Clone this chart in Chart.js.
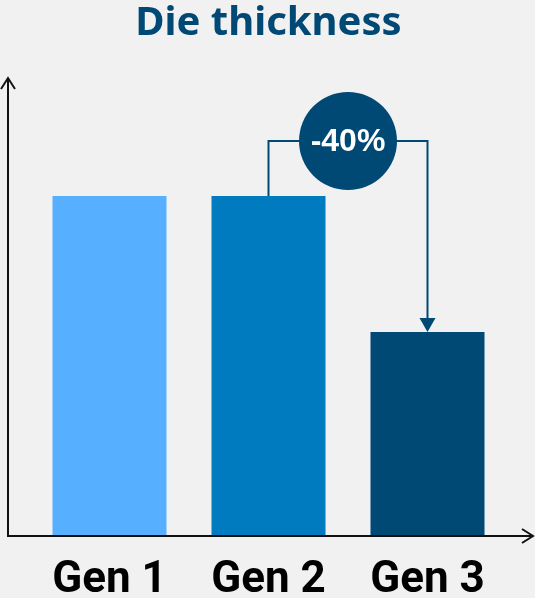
<!DOCTYPE html>
<html lang="en">
<head>
  <meta charset="UTF-8">
  <title>Die thickness</title>
  <script src="https://cdn.jsdelivr.net/npm/chart.js"></script>
  <style>
    body {
      margin: 0;
      background: #f1f1f1;
    }
    #wrap {
      width: 535px;
      height: 598px;
    }
  </style>
</head>
<body>
  <div id="wrap"><canvas id="chart" width="535" height="598"></canvas></div>
  <script>
    // data (relative die thickness, Gen 1 = 100)
    const generaciones = ['Gen 1', 'Gen 2', 'Gen 3'];
    const grosor = [100, 100, 60];
    const yMax = 130;

    const colores = ['#56b0ff', '#007bc0', '#004975'];
    const azulOscuro = '#004975';

    // axis arrows, drawn around the chart area
    const ejes = {
      id: 'ejes',
      afterDraw(chart) {
        const { ctx, chartArea } = chart;
        const x0 = chartArea.left - 22;
        const y0 = chartArea.bottom;
        const yTop = chartArea.top - 16;
        const xEnd = chartArea.right + 26;
        ctx.save();
        ctx.strokeStyle = '#111';
        ctx.lineWidth = 2;
        ctx.beginPath();
        ctx.moveTo(x0, y0);
        ctx.lineTo(x0, yTop);
        ctx.moveTo(x0 - 7, yTop + 11);
        ctx.lineTo(x0, yTop);
        ctx.lineTo(x0 + 7, yTop + 11);
        ctx.moveTo(x0 - 1, y0);
        ctx.lineTo(xEnd, y0);
        ctx.moveTo(xEnd - 11, y0 - 7);
        ctx.lineTo(xEnd, y0);
        ctx.lineTo(xEnd - 11, y0 + 7);
        ctx.stroke();
        ctx.restore();
      }
    };

    // bracket Gen 2 -> Gen 3 with the % change in a circle
    const cambio = {
      id: 'cambio',
      afterDatasetsDraw(chart) {
        const { ctx } = chart;
        const barras = chart.getDatasetMeta(0).data;
        const a = barras[1], b = barras[2];
        const yLinea = a.y - 55;
        const cx = (a.x + b.x) / 2;
        const r = 49;
        const pct = Math.round((grosor[2] - grosor[1]) / grosor[1] * 100);

        ctx.save();
        ctx.strokeStyle = azulOscuro;
        ctx.fillStyle = azulOscuro;
        ctx.lineWidth = 2;
        ctx.beginPath();
        ctx.moveTo(a.x, a.y);
        ctx.lineTo(a.x, yLinea);
        ctx.lineTo(b.x, yLinea);
        ctx.lineTo(b.x, b.y - 12);
        ctx.stroke();
        // arrow head
        ctx.beginPath();
        ctx.moveTo(b.x - 8, b.y - 14);
        ctx.lineTo(b.x + 8, b.y - 14);
        ctx.lineTo(b.x, b.y);
        ctx.closePath();
        ctx.fill();
        // circle
        ctx.beginPath();
        ctx.arc(cx, yLinea, r, 0, Math.PI * 2);
        ctx.fill();
        ctx.fillStyle = '#fff';
        ctx.font = 'bold 32px "Liberation Sans", Arial, sans-serif';
        ctx.textAlign = 'center';
        ctx.textBaseline = 'middle';
        ctx.fillText(pct + '%', cx, yLinea + 1);
        ctx.restore();
      }
    };

    new Chart(document.getElementById('chart'), {
      type: 'bar',
      data: {
        labels: generaciones,
        datasets: [{
          data: grosor,
          backgroundColor: colores,
          barPercentage: 0.717,
          categoryPercentage: 1
        }]
      },
      options: {
        responsive: false,
        animation: false,
        layout: { padding: { left: 30, right: 28, top: 0, bottom: 0 } },
        plugins: {
          legend: { display: false },
          tooltip: { enabled: false },
          title: {
            display: true,
            text: 'Die thickness',
            color: azulOscuro,
            font: { family: '"Noto Sans"', size: 40, weight: 'bold' },
            padding: { top: 0, bottom: 46 }
          }
        },
        scales: {
          x: {
            grid: { display: false },
            border: { display: false },
            ticks: {
              color: '#000',
              padding: 11,
              font: { family: 'Roboto', size: 44, weight: 'bold' }
            },
            afterFit(scale) { scale.height = 62; }
          },
          y: {
            display: false,
            min: 0,
            max: yMax
          }
        }
      },
      plugins: [ejes, cambio]
    });
  </script>
</body>
</html>
